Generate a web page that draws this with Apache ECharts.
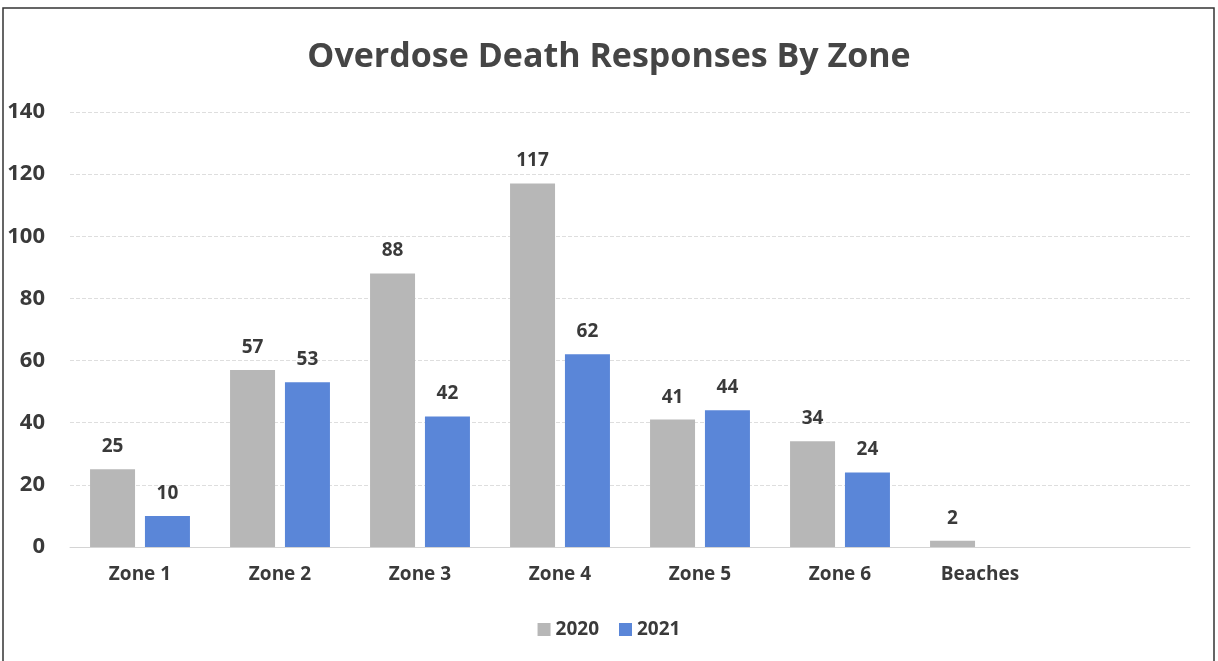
<!DOCTYPE html>
<html>
<head>
<meta charset="utf-8">
<script src="https://cdn.jsdelivr.net/npm/echarts@6/dist/echarts.min.js"></script>
<style>
html,body{margin:0;padding:0;background:#fff;}
#c{width:1218px;height:661px;}
</style>
</head>
<body>
<div id="c"></div>
<script>
const categories = ['Zone 1','Zone 2','Zone 3','Zone 4','Zone 5','Zone 6','Beaches',''];
const values2020 = [25, 57, 88, 117, 41, 34, 2, null];
const values2021 = [10, 53, 42, 62, 44, 24, null, null];
const yTicks = {min: 0, max: 140, interval: 20};

const chart = echarts.init(document.getElementById('c'));
const font = 'Open Sans';
const labelStyle = {show: true, position: 'top', distance: 13, color: '#3a3a3a', fontSize: 19, fontWeight: 'bold', fontFamily: font};
chart.setOption({
  animation: false,
  backgroundColor: '#fff',
  title: {
    text: 'Overdose Death Responses By Zone',
    left: 'center', top: 35,
    textStyle: {color: '#454545', fontSize: 34, fontWeight: 'bold', fontFamily: font}
  },
  graphic: [{
    type: 'rect', shape: {x: 3, y: 8, width: 1211, height: 660},
    style: {fill: 'none', stroke: '#333', lineWidth: 1.5}
  }],
  legend: {
    bottom: 17, left: 'center', itemWidth: 13, itemHeight: 13, itemGap: 20,
    icon: 'rect',
    textStyle: {color: '#3a3a3a', fontSize: 19, fontWeight: 'bold', fontFamily: font}
  },
  grid: {left: 70, right: 28, top: 112, bottom: 114, containLabel: false},
  xAxis: {
    type: 'category', data: categories,
    axisLine: {lineStyle: {color: '#d4d4d4'}},
    axisTick: {show: false},
    axisLabel: {color: '#3a3a3a', fontSize: 19, fontWeight: 'bold', fontFamily: font, margin: 18}
  },
  yAxis: {
    type: 'value', min: yTicks.min, max: yTicks.max, interval: yTicks.interval,
    axisLine: {show: false}, axisTick: {show: false},
    splitLine: {lineStyle: {color: '#dedede', type: 'dashed', width: 1}},
    axisLabel: {color: '#3a3a3a', fontSize: 22, fontWeight: 'bold', fontFamily: font, margin: 25}
  },
  series: [
    {name: '2020', type: 'bar', data: values2020, barWidth: 45, barGap: '22%',
     itemStyle: {color: '#b7b7b7'}, label: labelStyle},
    {name: '2021', type: 'bar', data: values2021, barWidth: 45,
     itemStyle: {color: '#5a86d8'}, label: labelStyle}
  ]
});
</script>
</body>
</html>
